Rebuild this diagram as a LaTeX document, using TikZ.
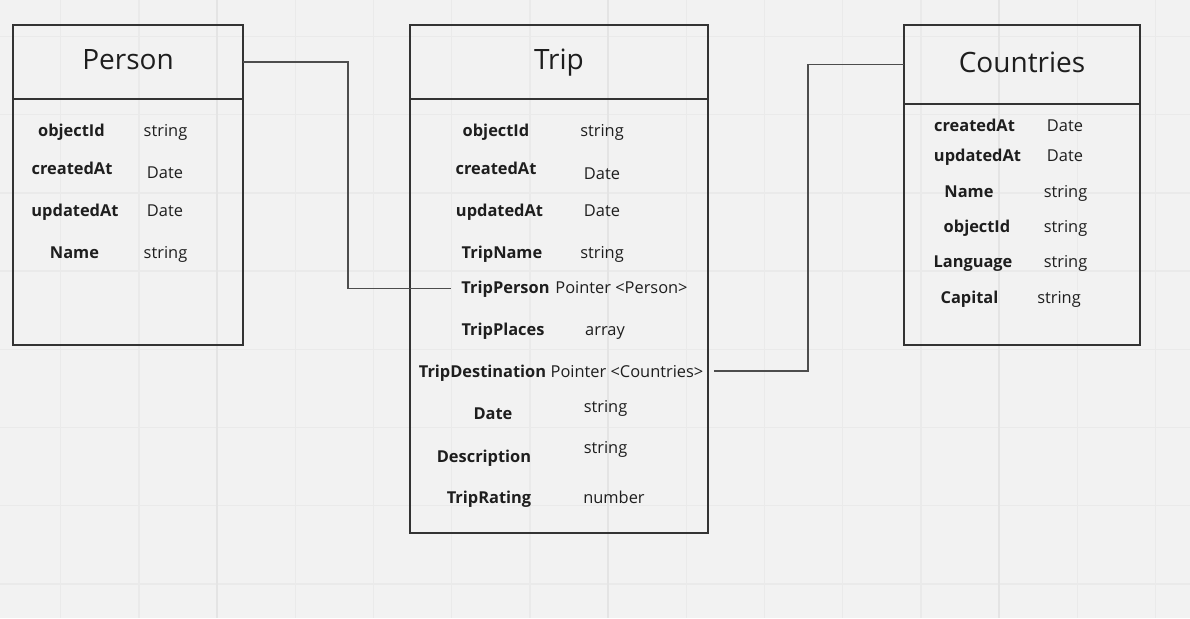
\documentclass[tikz,border=0pt]{standalone}
\usepackage{fontspec}
\setmainfont{Open Sans}
\usetikzlibrary{calc}

\definecolor{boardbg}{HTML}{F2F2F2}
\definecolor{gridminor}{HTML}{EAEAEA}
\definecolor{gridmajor}{HTML}{E4E4E4}
\definecolor{boxline}{HTML}{333333}
\definecolor{linkline}{HTML}{4D4D4D}
\definecolor{ink}{HTML}{1E1E1E}

\newcommand{\titlesize}{\fontsize{28}{34}\selectfont}
\newcommand{\fieldsize}{\fontsize{16.4}{19}\selectfont}

\tikzset{
  tablebox/.style={draw=boxline, line width=1.8pt, anchor=north west, inner sep=0pt, outer sep=0pt},
  headline/.style={draw=boxline, line width=1.8pt},
  tabletitle/.style={font=\titlesize, text=ink, anchor=base},
  field/.style={font=\fieldsize\bfseries, text=ink, anchor=base},
  ftype/.style={font=\fieldsize, text=ink, anchor=base},
  link/.style={draw=linkline, line width=1.2pt}
}

\begin{document}
\begin{tikzpicture}[x=1pt, y=-1pt]
  % board background with grid
  \useasboundingbox (0,0) rectangle (1190,618);
  \fill[boardbg] (0,0) rectangle (1190,618);
  \foreach \gx in {60.6,138.8,295.2,373.4,451.6,529.8,686.2,764.4,842.6,920.8,1077.2,1155.4}
    \draw[gridminor, line width=1.4pt] (\gx,0) -- (\gx,618);
  \foreach \gy in {36.4,114.6,192.8,271,349.2,427.4,505.6,583.8}
    \draw[gridminor, line width=1.4pt] (0,\gy) -- (1190,\gy);
  \foreach \gx in {217,608,999}
    \draw[gridmajor, line width=2.6pt] (\gx,0) -- (\gx,618);

  % Person table
  \node[tablebox, minimum width=230pt, minimum height=320pt] (person) at (13,25) {};
  \draw[headline] ([yshift=-74pt]person.north west) -- ([yshift=-74pt]person.north east);
  \node[tabletitle] (persontitle) at (128,70) {Person};
  \node[field] (person-objectid) at (71.5,136) {objectId};
  \node[ftype] (person-objectid-t) at (165.5,136) {string};
  \node[field] (person-createdat) at (72,174) {createdAt};
  \node[ftype] (person-createdat-t) at (165,178) {Date};
  \node[field] (person-updatedat) at (75,216) {updatedAt};
  \node[ftype] (person-updatedat-t) at (165,216) {Date};
  \node[field] (person-name) at (74.5,258) {Name};
  \node[ftype] (person-name-t) at (165.5,258) {string};

  % Trip table
  \node[tablebox, minimum width=298pt, minimum height=508pt] (trip) at (410,25) {};
  \draw[headline] ([yshift=-74pt]trip.north west) -- ([yshift=-74pt]trip.north east);
  \node[tabletitle] (triptitle) at (559,70) {Trip};
  \node[field] (trip-objectid) at (496,136) {objectId};
  \node[ftype] (trip-objectid-t) at (602,136) {string};
  \node[field] (trip-createdat) at (496,174) {createdAt};
  \node[ftype] (trip-createdat-t) at (602,179) {Date};
  \node[field] (trip-updatedat) at (499.5,216) {updatedAt};
  \node[ftype] (trip-updatedat-t) at (602,216) {Date};
  \node[field] (trip-name) at (502,258) {TripName};
  \node[ftype] (trip-name-t) at (602,258) {string};
  \node[field] (trip-person) at (505.5,293) {TripPerson};
  \node[ftype] (trip-person-t) at (621.5,293) {Pointer <Person>};
  \node[field] (trip-places) at (503,335) {TripPlaces};
  \node[ftype] (trip-places-t) at (605,335) {array};
  \node[field] (trip-dest) at (482.5,377) {TripDestination};
  \node[ftype] (trip-dest-t) at (627,377) {Pointer <Countries>};
  \node[field] (trip-date) at (493,419) {Date};
  \node[ftype] (trip-date-t) at (605.5,412) {string};
  \node[field] (trip-desc) at (484,462) {Description};
  \node[ftype] (trip-desc-t) at (605.5,453) {string};
  \node[field] (trip-rating) at (489,503) {TripRating};
  \node[ftype] (trip-rating-t) at (614,503) {number};

  % Countries table
  \node[tablebox, minimum width=236pt, minimum height=320pt] (countries) at (904,25) {};
  \draw[headline] ([yshift=-79pt]countries.north west) -- ([yshift=-79pt]countries.north east);
  \node[tabletitle] (countriestitle) at (1022,73) {Countries};
  \node[field] (countries-createdat) at (974.5,131) {createdAt};
  \node[ftype] (countries-createdat-t) at (1065,131) {Date};
  \node[field] (countries-updatedat) at (977.5,161) {updatedAt};
  \node[ftype] (countries-updatedat-t) at (1065,161) {Date};
  \node[field] (countries-name) at (969,197) {Name};
  \node[ftype] (countries-name-t) at (1065.5,197) {string};
  \node[field] (countries-objectid) at (977,232) {objectId};
  \node[ftype] (countries-objectid-t) at (1065.5,232) {string};
  \node[field] (countries-language) at (973,267) {Language};
  \node[ftype] (countries-language-t) at (1065.5,267) {string};
  \node[field] (countries-capital) at (969.5,303) {Capital};
  \node[ftype] (countries-capital-t) at (1059,303) {string};

  % links between tables
  \draw[link] ([yshift=-37pt]person.north east) -- ++(105,0) |- ([xshift=-7pt]trip-person.west);
  \draw[link] ([yshift=-39.5pt]countries.north west) -- ++(-96,0) |- ([xshift=7pt]trip-dest-t.east);
\end{tikzpicture}
\end{document}
